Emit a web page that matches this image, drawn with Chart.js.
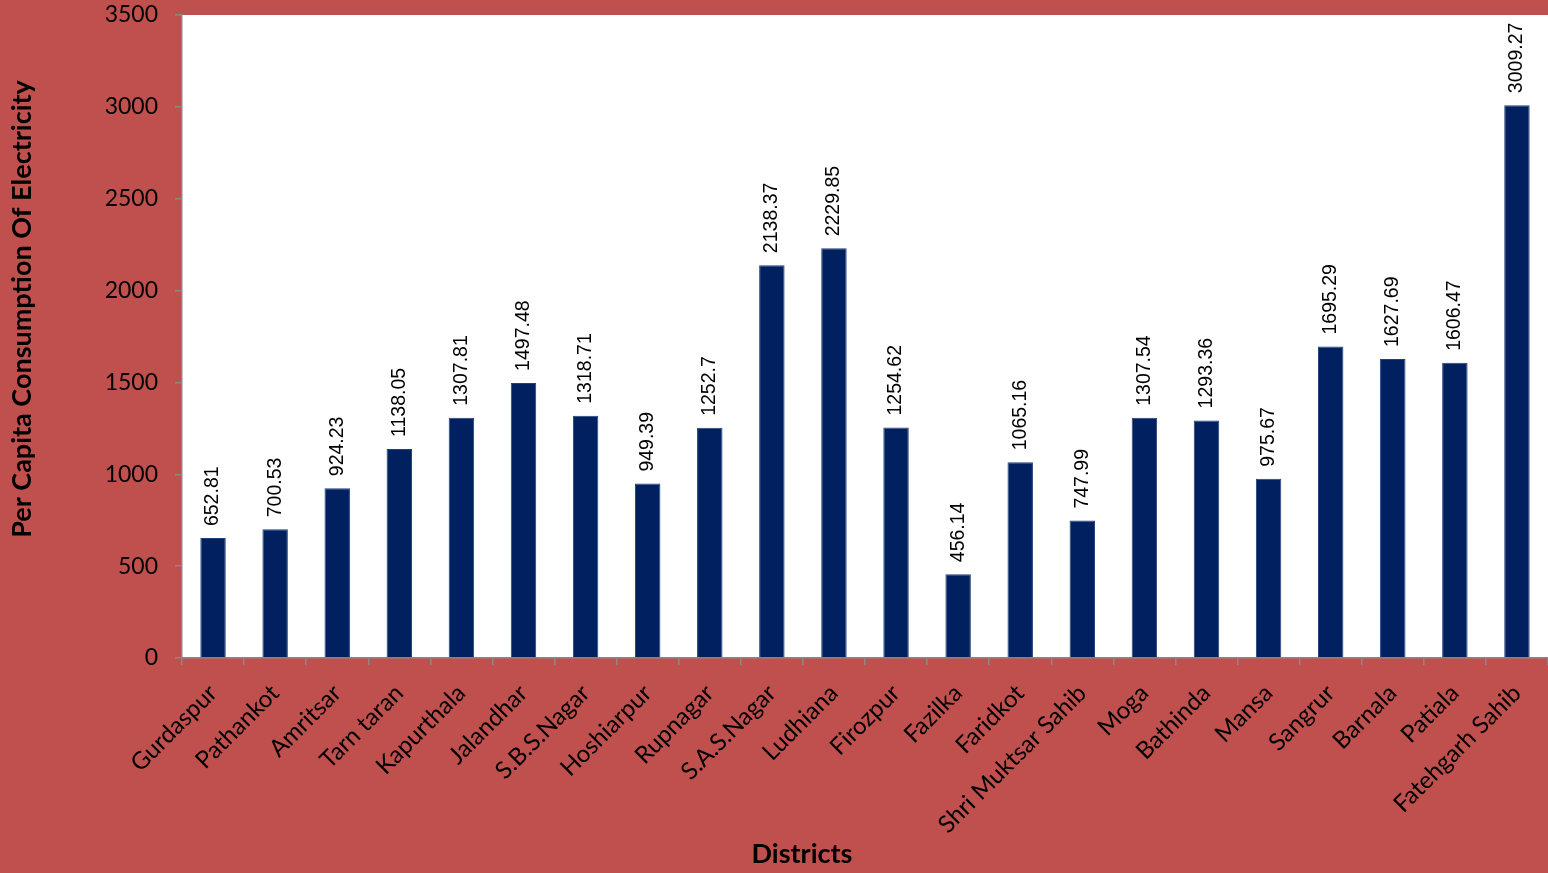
<!DOCTYPE html>
<html><head><meta charset="utf-8">
<script src="https://cdn.jsdelivr.net/npm/chart.js@4"></script>
<style>html,body{margin:0;padding:0;background:#C0504D;}#wrap{width:1548px;height:873px;}</style>
</head><body><div id="wrap"><canvas id="c" width="1548" height="873"></canvas></div>
<script>
const districts = ["Gurdaspur","Pathankot","Amritsar","Tarn taran","Kapurthala","Jalandhar","S.B.S.Nagar","Hoshiarpur","Rupnagar","S.A.S.Nagar","Ludhiana","Firozpur","Fazilka","Faridkot","Shri Muktsar Sahib","Moga","Bathinda","Mansa","Sangrur","Barnala","Patiala","Fatehgarh Sahib"];
const consumption = [652.81,700.53,924.23,1138.05,1307.81,1497.48,1318.71,949.39,1252.7,2138.37,2229.85,1254.62,456.14,1065.16,747.99,1307.54,1293.36,975.67,1695.29,1627.69,1606.47,3009.27];
const valueLabels = ["652.81","700.53","924.23","1138.05","1307.81","1497.48","1318.71","949.39","1252.7","2138.37","2229.85","1254.62","456.14","1065.16","747.99","1307.54","1293.36","975.67","1695.29","1627.69","1606.47","3009.27"];
const yTitle = "Per Capita Consumption Of Electricity";
const xTitle = "Districts";

const bgPlugin = {
  id:'bg',
  beforeDraw(chart){
    const {ctx, chartArea:a} = chart;
    ctx.save();
    ctx.fillStyle = '#C0504D';
    ctx.fillRect(0,0,chart.width,chart.height);
    ctx.fillStyle = '#FFFFFF';
    ctx.fillRect(a.left,a.top,a.right-a.left,a.bottom-a.top);
    ctx.restore();
  },
  afterDraw(chart){
    const ctx = chart.ctx;
    const meta = chart.getDatasetMeta(0);
    ctx.save();
    ctx.fillStyle = '#000';
    ctx.font = '19.5px "Liberation Sans", Arial, sans-serif';
    ctx.textAlign = 'left';
    ctx.textBaseline = 'middle';
    meta.data.forEach((bar,i)=>{
      ctx.save();
      ctx.translate(bar.x, bar.y - 12);
      ctx.rotate(-Math.PI/2);
      ctx.fillText(valueLabels[i],0,0);
      ctx.restore();
    });
    ctx.font = 'bold 27px Lato, "Open Sans", sans-serif';
    ctx.textAlign = 'center';
    ctx.save();
    ctx.translate(22, 309);
    ctx.rotate(-Math.PI/2);
    ctx.fillText(yTitle,0,0);
    ctx.restore();
    ctx.fillText(xTitle, 802, 854);
    ctx.restore();
  }
};

new Chart(document.getElementById('c'),{
  type:'bar',
  data:{labels:districts,datasets:[{data:consumption,backgroundColor:'#002060',borderColor:'#20407a',borderWidth:1,categoryPercentage:1,barPercentage:0.41}]},
  options:{
    responsive:false,animation:false,
    layout:{padding:{top:15,right:0,left:0,bottom:0}},
    plugins:{legend:{display:false},tooltip:{enabled:false}},
    scales:{
      x:{
        grid:{display:true,drawOnChartArea:false,color:'#888',tickLength:7,offset:true,lineWidth:1.5},
        border:{color:'#888',width:1.5},
        ticks:{color:'#000',font:{family:'Lato, "Open Sans", sans-serif',size:24},minRotation:45,maxRotation:45,padding:14,autoSkip:false},
        afterFit(s){s.height=215;s.paddingLeft=0;s.paddingRight=0;}
      },
      y:{
        min:0,max:3500,
        grid:{display:true,drawOnChartArea:false,color:'#888',tickLength:7,lineWidth:1.5},
        border:{color:'#888',width:1.5},
        ticks:{stepSize:500,color:'#000',font:{family:'Lato, "Open Sans", sans-serif',size:23},padding:17,callback:(v)=>String(v)},
        afterFit(s){s.width=182;s.paddingTop=0;s.paddingBottom=0;}
      }
    }
  },
  plugins:[bgPlugin]
});
</script></body></html>
